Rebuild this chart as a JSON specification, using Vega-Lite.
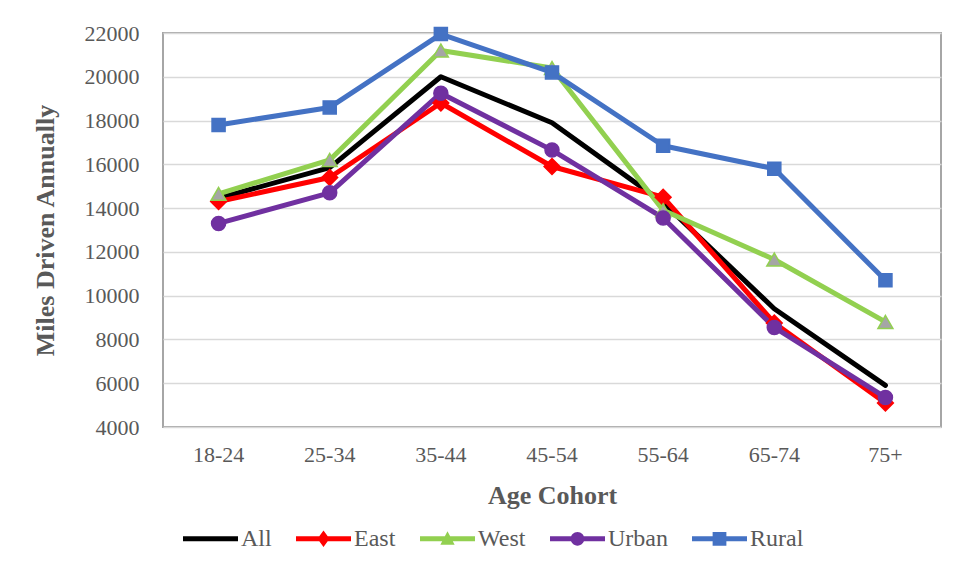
{
  "$schema": "https://vega.github.io/schema/vega-lite/v6.json",
  "width": 778,
  "height": 394,
  "autosize": {"type": "none"},
  "padding": {"left": 163, "top": 33, "right": 17, "bottom": 144},
  "background": "white",
  "config": {
    "font": "Liberation Serif",
    "view": {"stroke": "#A6A6A6", "strokeWidth": 2},
    "axis": {"labelFont": "Liberation Serif", "titleFont": "Liberation Serif", "labelColor": "#595959", "titleColor": "#595959"}
  },
  "data": {
    "values": [
      {"age": "18-24", "series": "All", "miles": 14450},
      {"age": "25-34", "series": "All", "miles": 15850},
      {"age": "35-44", "series": "All", "miles": 20000},
      {"age": "45-54", "series": "All", "miles": 17900},
      {"age": "55-64", "series": "All", "miles": 14250},
      {"age": "65-74", "series": "All", "miles": 9400},
      {"age": "75+", "series": "All", "miles": 5900},
      {"age": "18-24", "series": "East", "miles": 14300},
      {"age": "25-34", "series": "East", "miles": 15400},
      {"age": "35-44", "series": "East", "miles": 18800},
      {"age": "45-54", "series": "East", "miles": 15900},
      {"age": "55-64", "series": "East", "miles": 14500},
      {"age": "65-74", "series": "East", "miles": 8750},
      {"age": "75+", "series": "East", "miles": 5100},
      {"age": "18-24", "series": "West", "miles": 14650},
      {"age": "25-34", "series": "West", "miles": 16200},
      {"age": "35-44", "series": "West", "miles": 21200},
      {"age": "45-54", "series": "West", "miles": 20400},
      {"age": "55-64", "series": "West", "miles": 13900},
      {"age": "65-74", "series": "West", "miles": 11650},
      {"age": "75+", "series": "West", "miles": 8800},
      {"age": "18-24", "series": "Urban", "miles": 13300},
      {"age": "25-34", "series": "Urban", "miles": 14700},
      {"age": "35-44", "series": "Urban", "miles": 19250},
      {"age": "45-54", "series": "Urban", "miles": 16650},
      {"age": "55-64", "series": "Urban", "miles": 13550},
      {"age": "65-74", "series": "Urban", "miles": 8550},
      {"age": "75+", "series": "Urban", "miles": 5350},
      {"age": "18-24", "series": "Rural", "miles": 17800},
      {"age": "25-34", "series": "Rural", "miles": 18600},
      {"age": "35-44", "series": "Rural", "miles": 21950},
      {"age": "45-54", "series": "Rural", "miles": 20200},
      {"age": "55-64", "series": "Rural", "miles": 16850},
      {"age": "65-74", "series": "Rural", "miles": 15800},
      {"age": "75+", "series": "Rural", "miles": 10700}
    ]
  },
  "encoding": {
    "x": {
      "field": "age",
      "type": "ordinal",
      "sort": ["18-24", "25-34", "35-44", "45-54", "55-64", "65-74", "75+"],
      "scale": {"type": "band", "paddingInner": 0, "paddingOuter": 0},
      "axis": {
        "title": "Age Cohort",
        "titleFontSize": 26,
        "titleFontWeight": "bold",
        "titlePadding": 17,
        "labelFontSize": 22,
        "labelAngle": 0,
        "labelPadding": 17,
        "ticks": false,
        "tickSize": 0,
        "domain": false,
        "grid": false
      }
    },
    "y": {
      "field": "miles",
      "type": "quantitative",
      "scale": {"domain": [4000, 22000], "nice": false, "zero": false},
      "axis": {
        "title": "Miles Driven Annually",
        "titleFontSize": 26,
        "titleFontWeight": "bold",
        "titlePadding": 26,
        "labelFontSize": 22,
        "labelPadding": 24,
        "format": "d",
        "values": [4000, 6000, 8000, 10000, 12000, 14000, 16000, 18000, 20000, 22000],
        "ticks": false,
        "tickSize": 0,
        "domain": false,
        "grid": true,
        "gridColor": "#D9D9D9",
        "gridWidth": 1.5
      }
    }
  },
  "layer": [
    {
      "mark": {"type": "line", "strokeWidth": 5, "strokeJoin": "round", "strokeCap": "round"},
      "encoding": {
        "color": {
          "field": "series",
          "type": "nominal",
          "sort": ["All", "East", "West", "Urban", "Rural"],
          "scale": {
            "domain": ["All", "East", "West", "Urban", "Rural"],
            "range": ["#000000", "#FF0000", "#92D050", "#7030A0", "#4472C4"]
          },
          "legend": {
            "title": null,
            "orient": "none",
            "direction": "horizontal",
            "legendX": 20,
            "legendY": 478,
            "labelFont": "Liberation Serif",
            "labelFontSize": 24,
            "labelColor": "#595959",
            "labelOffset": 3,
            "columnPadding": 24,
            "symbolSize": 3025,
            "encode": {
              "symbols": {
                "update": {
                  "shape": {"signal": "datum.value === 'All' ? 'M-1,-0.09H1V0.09H-1Z' : datum.value === 'East' ? 'M-1,-0.09H1V0.09H-1Z M0,-0.3L0.22,0L0,0.3L-0.22,0Z' : datum.value === 'West' ? 'M-1,-0.09H1V0.09H-1Z M0,-0.27L0.26,0.22L-0.26,0.22Z' : datum.value === 'Urban' ? 'M-1,-0.09H1V0.09H-1Z M-0.25,0A0.25,0.25 0 1,1 0.25,0A0.25,0.25 0 1,1 -0.25,0Z' : 'M-1,-0.09H1V0.09H-1Z M-0.25,-0.25H0.25V0.25H-0.25Z'"},
                  "fill": {"signal": "scale('color', datum.value)"},
                  "stroke": {"value": "transparent"},
                  "strokeWidth": {"value": 0},
                  "opacity": {"value": 1}
                }
              }
            }
          }
        }
      }
    },
    {
      "transform": [{"filter": "datum.series !== 'All'"}],
      "mark": {"type": "point", "filled": false, "opacity": 1, "strokeWidth": 1.5},
      "encoding": {
        "shape": {
          "field": "series",
          "type": "nominal",
          "scale": {"domain": ["East", "West", "Urban", "Rural"], "range": ["diamond", "triangle-up", "circle", "square"]},
          "legend": null
        },
        "size": {
          "field": "series",
          "type": "nominal",
          "scale": {"domain": ["East", "West", "Urban", "Rural"], "range": [250, 170, 220, 210]},
          "legend": null
        },
        "fill": {
          "field": "series",
          "type": "nominal",
          "scale": {"domain": ["East", "West", "Urban", "Rural"], "range": ["#FF0000", "#A5A5A5", "#7030A0", "#4472C4"]},
          "legend": null
        },
        "stroke": {
          "field": "series",
          "type": "nominal",
          "scale": {"domain": ["East", "West", "Urban", "Rural"], "range": ["#FF0000", "#92D050", "#7030A0", "#4472C4"]},
          "legend": null
        }
      }
    }
  ]
}
